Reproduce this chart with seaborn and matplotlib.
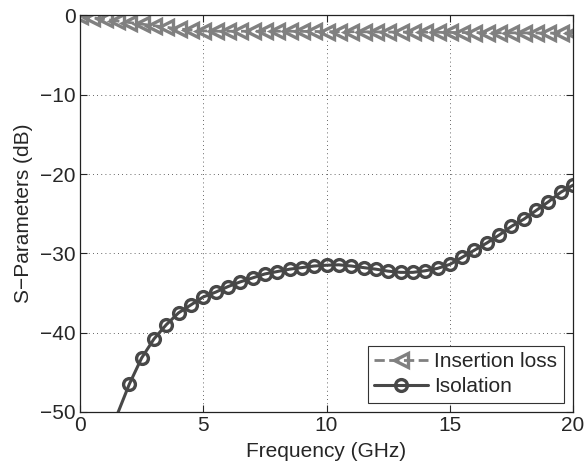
import matplotlib
matplotlib.use("Agg")
import matplotlib.pyplot as plt
import numpy as np
import seaborn as sns

# Frequency grid (GHz), sampled every 0.5 GHz
freq_il = np.arange(0, 20.01, 0.5)
insertion_loss = [
    -0.1, -0.3, -0.5, -0.7, -0.9, -1.1, -1.3, -1.5, -1.7, -1.85,
    -1.95, -2.0, -2.0, -2.0, -2.0, -2.0, -2.0, -2.0, -2.02, -2.03,
    -2.05, -2.05, -2.06, -2.07, -2.08, -2.1, -2.1, -2.11, -2.12, -2.13,
    -2.15, -2.16, -2.17, -2.18, -2.19, -2.2, -2.21, -2.22, -2.23, -2.24,
    -2.25,
]

freq_iso = np.arange(1.5, 20.01, 0.5)
isolation = [
    -50.4, -46.5, -43.2, -40.8, -39.0, -37.5, -36.5, -35.5, -34.9, -34.2,
    -33.6, -33.1, -32.6, -32.3, -32.0, -31.8, -31.6, -31.5, -31.45, -31.6,
    -31.8, -32.0, -32.25, -32.4, -32.4, -32.2, -31.9, -31.4, -30.5,
    -29.6, -28.7, -27.7, -26.6, -25.7, -24.6, -23.5, -22.3, -21.4,
]

FS = 15

sns.set_style("ticks")
plt.rcParams["font.family"] = ["Liberation Sans", "DejaVu Sans"]

fig, ax = plt.subplots(figsize=(5.86, 4.66), dpi=100)
fig.subplots_adjust(left=0.1365, right=0.978, top=0.967, bottom=0.116)

sns.lineplot(
    x=freq_il, y=insertion_loss, ax=ax,
    color="#808080", linestyle="--", linewidth=2,
    marker="<", markersize=9.5, markerfacecolor="none",
    markeredgecolor="#808080", markeredgewidth=2.4,
    label="Insertion loss",
)
sns.lineplot(
    x=freq_iso, y=isolation, ax=ax,
    color="#484848", linestyle="-", linewidth=2.2,
    marker="o", markersize=8.5, markerfacecolor="none",
    markeredgecolor="#484848", markeredgewidth=2.4,
    markevery=slice(1, None),
    label="Isolation",
)

ax.set_xlim(0, 20)
ax.set_ylim(-50, 0)
ax.set_xticks([0, 5, 10, 15, 20])
ax.set_yticks([-50, -40, -30, -20, -10, 0])
ax.grid(True, linestyle=(0, (1, 4)), color="#333333", linewidth=0.6)
ax.tick_params(direction="in", length=5, top=True, right=True,
               labelsize=FS, width=0.8, pad=3)
for s in ax.spines.values():
    s.set_visible(True)
    s.set_color("#222222")
    s.set_linewidth(0.9)

ax.set_xlabel("Frequency (GHz)", fontsize=FS, labelpad=5)
ax.set_ylabel("S\u2212Parameters (dB)", fontsize=FS, labelpad=5)

leg = ax.legend(loc="lower right", fontsize=FS, fancybox=False,
                edgecolor="#333333", framealpha=1, handlelength=2.6,
                borderpad=0.3, labelspacing=0.3, handletextpad=0.3,
                borderaxespad=0.45)
leg.get_frame().set_linewidth(0.8)

fig.savefig("out.png", dpi=100)
